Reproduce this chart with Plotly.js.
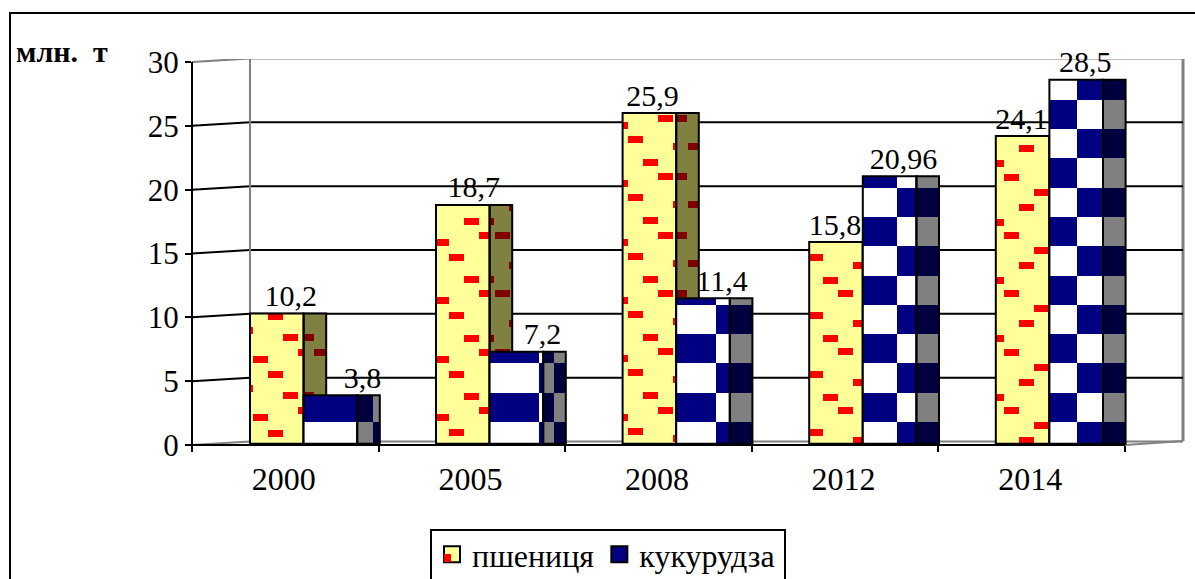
<!DOCTYPE html>
<html><head><meta charset="utf-8">
<script src="https://cdn.plot.ly/plotly-3.0.1.min.js"></script>
<style>html,body{margin:0;padding:0;background:#fff;overflow:hidden}#c{width:1195px;height:579px}</style>
</head><body><div id="c"></div><script>
// ---------- data ----------
const years = ['2000','2005','2008','2012','2014'];
const wheat = [10.2,18.7,25.9,15.8,24.1];
const corn = [3.8,7.2,11.4,20.96,28.5];
const wheatLabels = ['10,2','18,7','25,9','15,8','24,1'];
const cornLabels = ['3,8','7,2','11,4','20,96','28,5'];
const yTicks = [0,5,10,15,20,25,30];
// ---------- label nudges (px) ----------
const wheatLabelShift = [14,11,3,-1,-1];
const cornLabelShift = [32,26,19,14,9];
// ---------- texture tiles, px from the wheat bar's left edge / px above baseline ----------
const brickTiles = [
  [[18,132],[-12,118],[33,111],[48,96],[3,89]],
  [[28,227],[43,213],[-2,206],[13,191]],
  [[35,330],[-10,323],[5,309],[50,302],[20,286]],
  [[-1,191],[44,183],[14,168],[29,155]],
  [[8,213],[38,198],[23,183],[-7,168]]
];
const sideBrickTiles = [
  [[-5,111],[10,96]],
  [[-11,227],[5,213],[19,183]],
  [[-4,330],[12,302]],
  [],[]
];
const checkerSplit = [null,49,40,34,28];     // px from corn left edge
const sideSplit = [16,11,null,null,null];    // px from corn side left edge
const sideFirstCol = [0,0,1,1,1];

// ---------- scales ----------
const L=192,R=1183,T=59,B=445, pxPerVal=12.767, pxPerCat=186.6;
const xRange=[-0.5,-0.5+(R-L)/pxPerCat], yRange=[0,(B-T)/pxPerVal];
const xv=px=>-0.5+(px-L)/pxPerCat, pxv=p=>p/pxPerCat, yp=p=>p/pxPerVal;
const xP=px=>(px-L)/(R-L), yP=py=>(B-py)/(B-T);
const lift=0.1, barW=53.6, sideW=22.6;
const wheatL=i=>250+i*pxPerCat-(i>0?0.6:0);
const cornL=i=>wheatL(i)+barW;
const sideL=i=>cornL(i)+barW;
const topOf=v=>v+lift;

function bars(name,color,items,extra){
  return Object.assign({type:'bar',name,showlegend:false,hoverinfo:'skip',
    x:items.map(b=>xv((b[0]+b[1])/2)),width:items.map(b=>pxv(b[1]-b[0])),
    base:items.map(b=>b[2]),y:items.map(b=>b[3]-b[2]),
    marker:{color,line:{width:0}}},extra||{});
}
function dataBars(name,color,lefts,w,vals,outline){
  return bars(name,color,vals.map((v,i)=>[lefts(i),lefts(i)+w,lift,topOf(v)]),
    {marker:{color,line:{width:outline?2:0,color:'#000'}}});
}
// brick texture: repeat a tile up and down and clip to bar rectangle
function bricks(tiles,leftFn,w,vals){
  const out=[];
  const period=58.3, bw=15, bh=7;
  tiles.forEach((tile,i)=>{
    const x0=leftFn(i), x1=x0+w, top=topOf(vals[i]);
    tile.forEach(t=>{
      for(let k=-8;k<9;k++){
        const a=x0+t[0], bBot=yp(t[1]+k*period-bh), bTop=yp(t[1]+k*period);
        const lo=Math.max(a,x0), hi=Math.min(a+bw,x1);
        const yb=Math.max(bBot,lift), yt=Math.min(bTop,top);
        if(hi>lo && yt>yb) out.push([lo,hi,yb,yt]);
      }
    });
  });
  return out;
}
// checker cells
const rowH=29.3, firstRowTop=23;
function rowsFor(v){
  const r=[];let lo=lift,k=0;const top=topOf(v);
  while(lo<top-1e-6){
    const hi=Math.min(yp(firstRowTop+k*rowH),top);
    if(hi>lo) r.push([lo,hi,k]);
    lo=Math.max(lo,hi);k++;
  }
  return r;
}
const whiteCells=[],grayCells=[],darkCells=[];
corn.forEach((v,i)=>{
  const x0=cornL(i),x1=x0+barW,s0=sideL(i),s1=s0+sideW;
  const fc=checkerSplit[i]==null?[[x0,x1]]:[[x0,x0+checkerSplit[i]],[x0+checkerSplit[i],x1]];
  const sc=sideSplit[i]==null?[[s0,s1]]:[[s0,s0+sideSplit[i]],[s0+sideSplit[i],s1]];
  rowsFor(v).forEach(([lo,hi,k])=>{
    fc.forEach((c,j)=>{ if((j+k)%2===0) whiteCells.push([c[0],c[1],lo,hi]); });
    sc.forEach((c,j)=>{ ((j+sideFirstCol[i]+k)%2===0?grayCells:darkCells).push([c[0],c[1],lo,hi]); });
  });
});

const traces=[
  dataBars('пшениця','#FFFF99',wheatL,barW,wheat,false),
  bars('пшениця цегла','#FF0000',bricks(brickTiles,wheatL,barW,wheat)),
  dataBars('пшениця бік','#808040',i=>wheatL(i)+barW,sideW,wheat,false),
  bars('пшениця бік цегла','#800000',bricks(sideBrickTiles,i=>wheatL(i)+barW,sideW,wheat)),
  dataBars('пшениця контур','rgba(0,0,0,0)',wheatL,barW,wheat,true),
  dataBars('пшениця бік контур','rgba(0,0,0,0)',i=>wheatL(i)+barW,sideW,wheat,true),
  dataBars('кукурудза','#000080',cornL,barW,corn,false),
  bars('кукурудза біле','#FFFFFF',whiteCells),
  dataBars('кукурудза бік','#000040',sideL,sideW,corn,false),
  bars('кукурудза бік сіре','#808080',grayCells),
  bars('кукурудза бік темне','#000040',darkCells),
  dataBars('кукурудза контур','rgba(0,0,0,0)',cornL,barW,corn,true),
  dataBars('кукурудза бік контур','rgba(0,0,0,0)',sideL,sideW,corn,true),
  {type:'scatter',mode:'text',showlegend:false,hoverinfo:'skip',cliponaxis:false,
    x:wheat.map((v,i)=>xv(wheatL(i)+barW/2+wheatLabelShift[i])).concat(corn.map((v,i)=>xv(cornL(i)+barW/2+cornLabelShift[i]))),
    y:wheat.map(v=>topOf(v)+yp(15)).concat(corn.map(v=>topOf(v)+yp(15))),
    text:wheatLabels.concat(cornLabels),textposition:'middle center',
    textfont:{family:'"Liberation Serif",serif',size:30,color:'#000'}},
  {type:'scatter',mode:'markers',name:'пшениця',x:[null],y:[null],hoverinfo:'skip',
    marker:{symbol:'square',size:16,color:'#FFFF99',line:{color:'#000',width:2}}},
  {type:'scatter',mode:'markers',name:'кукурудза',x:[null],y:[null],hoverinfo:'skip',
    marker:{symbol:'square',size:16,color:'#000080',line:{color:'#000',width:2}}}
];

// wall & grid
const slantX=xv(250), rise=yp(3.5);
const shapes=[];
yTicks.forEach(v=>{
  const col=(v===0||v===30)?'#808080':'#000';
  shapes.push({type:'path',layer:'below',xref:'x',yref:'y',
    path:`M ${xRange[0]} ${v} L ${slantX} ${v+rise} L ${xRange[1]} ${v+rise}`,
    line:{color:col,width:2}});
});
shapes.push({type:'line',layer:'below',xref:'x',yref:'y',x0:slantX,x1:slantX,y0:rise,y1:30+rise,line:{color:'#808080',width:2}});
shapes.push({type:'line',layer:'below',xref:'paper',yref:'paper',x0:1,x1:1,y0:yP(441),y1:1,line:{color:'#808080',width:3}});
shapes.push({type:'line',layer:'below',xref:'paper',yref:'paper',x0:xP(1125),x1:1,y0:0,y1:yP(441),line:{color:'#808080',width:2}});
// axis lines
shapes.push({type:'line',layer:'above',xref:'paper',yref:'paper',x0:0,x1:0,y0:0,y1:yP(62),line:{color:'#000',width:2}});
shapes.push({type:'line',layer:'above',xref:'paper',yref:'paper',x0:xP(186),x1:xP(1125),y0:0,y1:0,line:{color:'#000',width:2}});
// frame
shapes.push({type:'path',layer:'above',xref:'paper',yref:'paper',
  path:`M ${xP(10)} ${yP(590)} L ${xP(10)} ${yP(13)} L ${xP(1200)} ${yP(13)}`,line:{color:'#000',width:2}});
// legend box
shapes.push({type:'rect',layer:'above',xref:'paper',yref:'paper',x0:xP(431),x1:xP(785),y0:yP(600),y1:yP(530),line:{color:'#000',width:2},fillcolor:'rgba(0,0,0,0)'});

const serif='"Liberation Serif",serif';
const layout={
  width:1195,height:579,paper_bgcolor:'#fff',plot_bgcolor:'rgba(0,0,0,0)',
  margin:{l:L,r:1195-R,t:T,b:579-B,pad:0,autoexpand:false},
  barmode:'overlay',bargap:0,
  font:{family:serif,color:'#000'},
  xaxis:{type:'linear',range:xRange,tickmode:'array',tickvals:years.map((y,i)=>i-0.008),ticktext:years,
    ticks:'',showgrid:false,zeroline:false,showline:false,ticklabelstandoff:12,
    tickfont:{family:serif,size:32,color:'#000'},
    minor:{tickmode:'array',tickvals:[-0.5,0.5,1.5,2.5,3.5,4.5],ticks:'outside',ticklen:6,tickwidth:2,tickcolor:'#000',showgrid:false}},
  yaxis:{range:yRange,tickmode:'array',tickvals:yTicks,ticks:'outside',ticklen:6,tickwidth:2,tickcolor:'#000',
    showgrid:false,zeroline:false,showline:false,tickfont:{family:serif,size:31,color:'#000'}},
  shapes,
  showlegend:true,
  legend:{orientation:'h',xref:'paper',yref:'paper',x:xP(432),y:yP(527),xanchor:'left',yanchor:'top',
    font:{family:serif,size:32,color:'#000'},bgcolor:'rgba(0,0,0,0)',borderwidth:0,
    traceorder:'normal',itemclick:false,itemdoubleclick:false},
  annotations:[
    {xref:'paper',yref:'paper',x:xP(14),y:yP(52),xanchor:'left',yanchor:'middle',showarrow:false,
      text:'<b>млн.\u00A0\u00A0т</b>',font:{family:serif,size:30,color:'#000'}},
    {xref:'paper',yref:'paper',x:xP(447),y:yP(558),xanchor:'center',yanchor:'middle',showarrow:false,
      text:' ',width:7,height:8,bgcolor:'#FF0000',borderpad:0,borderwidth:0,font:{size:6}}
  ]
};
Plotly.newPlot('c',traces,layout,{displayModeBar:false,staticPlot:true});
</script></body></html>
